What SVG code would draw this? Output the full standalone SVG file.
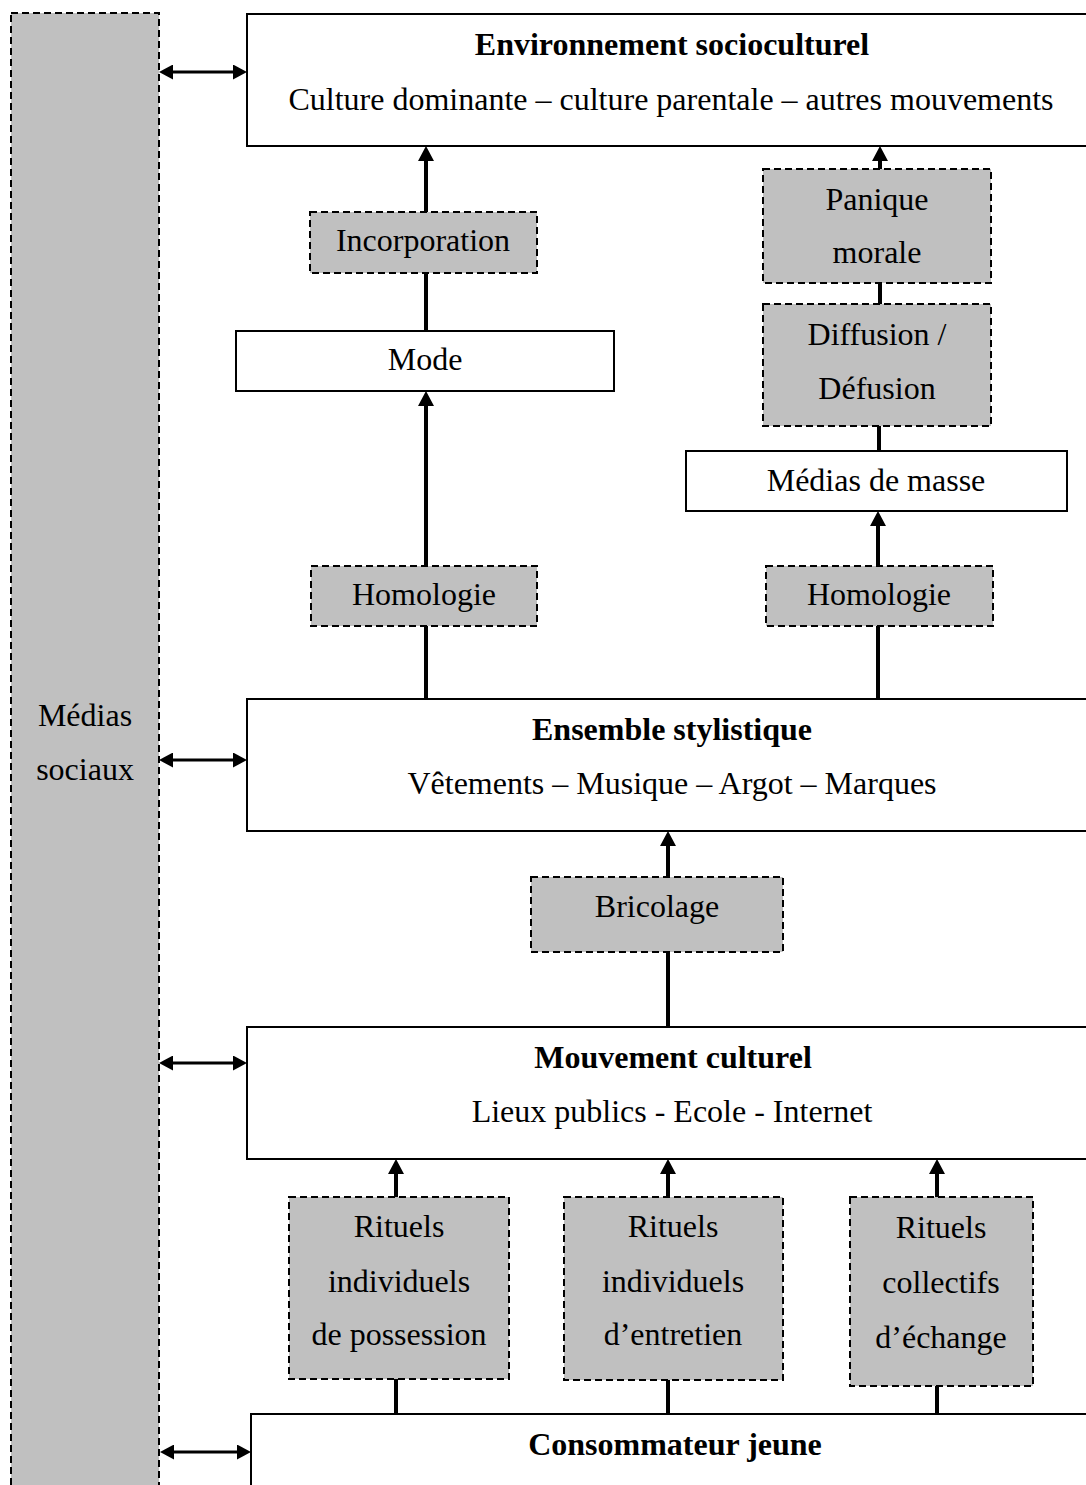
<svg xmlns="http://www.w3.org/2000/svg" width="1086" height="1485" viewBox="0 0 1086 1485">
<style>
text{font-family:"Liberation Serif","Times New Roman",serif;font-size:32px;fill:#000;text-anchor:middle}
.b{font-weight:bold}
.solid{fill:#fff;stroke:#000;stroke-width:2}
.dash{fill:#c0c0c0;stroke:#000;stroke-width:2;stroke-dasharray:7 4}
.c{stroke:#000;stroke-width:4;fill:none}
.h{stroke:#000;stroke-width:3;fill:none}
</style>
<defs>
<marker id="ah" markerUnits="userSpaceOnUse" markerWidth="16" markerHeight="16" refX="0" refY="8" orient="auto-start-reverse"><path d="M0,0 L15,8 L0,16 z" fill="#000"/></marker>
<marker id="hh" markerUnits="userSpaceOnUse" markerWidth="15" markerHeight="15" refX="0" refY="7.5" orient="auto-start-reverse"><path d="M0,0 L14,7.5 L0,15 z" fill="#000"/></marker>
</defs>
<g id="medias-sociaux"><rect class="dash" x="11" y="13" width="148" height="1490"/><text x="85" y="726">Médias</text><text x="85" y="780">sociaux</text></g>
<g id="environnement"><rect class="solid" x="247" y="14" width="860" height="132"/><text class="b" x="672" y="55">Environnement socioculturel</text><text x="671" y="110">Culture dominante – culture parentale – autres mouvements</text></g>
<g id="incorporation"><rect class="dash" x="310" y="212" width="227" height="61"/><text x="423" y="251">Incorporation</text></g>
<g id="mode"><rect class="solid" x="236" y="331" width="378" height="60"/><text x="425" y="370">Mode</text></g>
<g id="homologie-1"><rect class="dash" x="311" y="566" width="226" height="60"/><text x="424" y="605">Homologie</text></g>
<g id="panique"><rect class="dash" x="763" y="169" width="228" height="114"/><text x="877" y="210">Panique</text><text x="877" y="263">morale</text></g>
<g id="diffusion"><rect class="dash" x="763" y="304" width="228" height="122"/><text x="877" y="345">Diffusion /</text><text x="877" y="399">Défusion</text></g>
<g id="medias-masse"><rect class="solid" x="686" y="451" width="381" height="60"/><text x="876" y="491">Médias de masse</text></g>
<g id="homologie-2"><rect class="dash" x="766" y="566" width="227" height="60"/><text x="879" y="605">Homologie</text></g>
<g id="ensemble"><rect class="solid" x="247" y="699" width="860" height="132"/><text class="b" x="672" y="740">Ensemble stylistique</text><text x="672" y="794">Vêtements – Musique – Argot – Marques</text></g>
<g id="bricolage"><rect class="dash" x="531" y="877" width="252" height="75"/><text x="657" y="917">Bricolage</text></g>
<g id="mouvement"><rect class="solid" x="247" y="1027" width="860" height="132"/><text class="b" x="673" y="1068">Mouvement culturel</text><text x="672" y="1122">Lieux publics - Ecole - Internet</text></g>
<g id="rituels-1"><rect class="dash" x="289" y="1197" width="220" height="182"/><text x="399" y="1237">Rituels</text><text x="399" y="1292">individuels</text><text x="399" y="1345">de possession</text></g>
<g id="rituels-2"><rect class="dash" x="564" y="1197" width="219" height="183"/><text x="673" y="1237">Rituels</text><text x="673" y="1292">individuels</text><text x="673" y="1345">d’entretien</text></g>
<g id="rituels-3"><rect class="dash" x="850" y="1197" width="183" height="189"/><text x="941" y="1238">Rituels</text><text x="941" y="1293">collectifs</text><text x="941" y="1348">d’échange</text></g>
<g id="consommateur"><rect class="solid" x="251" y="1414" width="860" height="100"/><text class="b" x="675" y="1455">Consommateur jeune</text></g>
<g id="connectors">
<path class="h" d="M173,72 H233" marker-start="url(#hh)" marker-end="url(#hh)"/>
<path class="h" d="M173,760 H233" marker-start="url(#hh)" marker-end="url(#hh)"/>
<path class="h" d="M173,1063 H233" marker-start="url(#hh)" marker-end="url(#hh)"/>
<path class="h" d="M174,1452 H237" marker-start="url(#hh)" marker-end="url(#hh)"/>
<path class="c" d="M426,212 V161" marker-end="url(#ah)"/>
<path class="c" d="M426,273 V331"/>
<path class="c" d="M426,566 V406" marker-end="url(#ah)"/>
<path class="c" d="M426,626 V699"/>
<path class="c" d="M880,169 V161" marker-end="url(#ah)"/>
<path class="c" d="M880,283 V304"/>
<path class="c" d="M879,426 V451"/>
<path class="c" d="M878,566 V526" marker-end="url(#ah)"/>
<path class="c" d="M878,626 V699"/>
<path class="c" d="M668,877 V846" marker-end="url(#ah)"/>
<path class="c" d="M668,952 V1027"/>
<path class="c" d="M396,1197 V1174" marker-end="url(#ah)"/>
<path class="c" d="M396,1379 V1414"/>
<path class="c" d="M668,1197 V1174" marker-end="url(#ah)"/>
<path class="c" d="M668,1380 V1414"/>
<path class="c" d="M937,1197 V1174" marker-end="url(#ah)"/>
<path class="c" d="M937,1386 V1414"/>
</g>
</svg>
